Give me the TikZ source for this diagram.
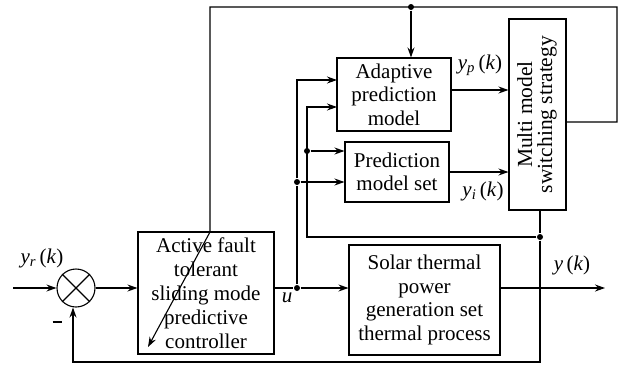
\documentclass[tikz,border=0pt]{standalone}
\usepackage{fontspec}
\setmainfont{Liberation Serif}
\usetikzlibrary{arrows.meta,calc}
\begin{document}
\begin{tikzpicture}[x=1pt,y=-1pt, line width=1.1pt,
 arr/.style={-{Stealth[length=10pt,width=7pt]}},
 blk/.style={draw, inner sep=0pt, align=center, font=\fontsize{21}{23.5}\selectfont},
 lbl/.style={font=\fontsize{21}{23}\selectfont, inner sep=0pt},
 jdot/.style={circle, fill, inner sep=0pt, minimum size=6pt}]
\useasboundingbox (0,0) rectangle (619,365);
% blocks
\node[blk, minimum width=136pt, minimum height=122pt, font=\fontsize{21}{24}\selectfont] (ctrl) at (206,293) {Active fault\\tolerant\\sliding mode\\predictive\\controller};
\node[blk, minimum width=151pt, minimum height=110pt] (proc) at (424.5,300) {Solar thermal\\power\\generation set\\thermal process};
\node[blk, minimum width=114pt, minimum height=73pt] (apm) at (394,94.5) {Adaptive\\prediction\\model};
\node[blk, minimum width=104pt, minimum height=60pt] (pms) at (397,172) {Prediction\\model set};
\node[blk, minimum width=57pt, minimum height=191pt, font=\fontsize{21.5}{23}\selectfont] (mm) at (537.5,114.5) {\rotatebox{90}{\begin{tabular}{@{}c@{}}Multi model\\[-3pt]switching strategy\end{tabular}}};
\node[draw, circle, minimum size=38pt, inner sep=0pt] (sum) at (76,288) {};
\draw (sum.north west) -- (sum.south east) (sum.north east) -- (sum.south west);
% junctions and coordinates
\coordinate (in) at (13,288);
\coordinate (out) at (605,288);
\node[jdot] (ju) at (297,288) {};
\node[jdot] (j1) at (297,182) {};
\node[jdot] (j2) at (307,151) {};
\node[jdot] (j3) at (540,237) {};
\node[jdot] (jt) at (411,7) {};
\coordinate (c307) at (307,237);
\coordinate (a1) at (337,80);
\coordinate (a2) at (337,107);
\coordinate (ap) at (451,90);
\coordinate (mmr) at (566,122);
\coordinate (tr) at (617,7);
\coordinate (tl) at (210,7);
\coordinate (ctop) at (210,232);
\coordinate (ctip) at (148,347);
\coordinate (fb) at (73,362);
% connectors
\draw[arr] (in) -- (sum.west);
\draw[arr] (sum.east) -- (sum.east -| ctrl.west);
\draw[arr] (ju -| ctrl.east) -- (ju) -- (ju -| proc.west);
\draw[arr] (ju -| proc.east) -- (out);
\draw[arr] (ju) -- (j1) |- (a1);
\draw[arr] (j1) -- (j1 -| pms.west);
\draw[arr] (j3) -- (c307) |- (a2);
\draw[arr] (j2) -- (j2 -| pms.west);
\draw[arr] (ap) -- (ap -| mm.west);
\draw[arr] (pms.east) -- (pms.east -| mm.west);
\draw[arr] (mmr) -| (tr) -- (tl) -- (ctop) -- (ctip);
\draw[arr] (jt) -- (jt |- apm.north);
\draw[arr] (j3 |- mm.south) -- (j3) -- (j3 |- fb) -- (fb) -- (fb |- sum.south);
% labels
\node[lbl] (lyr) at (42,258) {\textit{y}\textsubscript{\textit{r}}\,(\textit{k})};
\node[lbl] (lyp) at (480,65) {\textit{y}\textsubscript{\textit{p}}\,(\textit{k})};
\node[lbl] (lyi) at (483,191) {\textit{y}\textsubscript{\textit{i}}\,(\textit{k})};
\node[lbl] (ly) at (572,265) {\textit{y}\,(\textit{k})};
\node[lbl] (lu) at (287,298) {\textit{u}};
\node[lbl] (lm) at (57,322) {\rule{9pt}{2.4pt}};
\end{tikzpicture}
\end{document}
